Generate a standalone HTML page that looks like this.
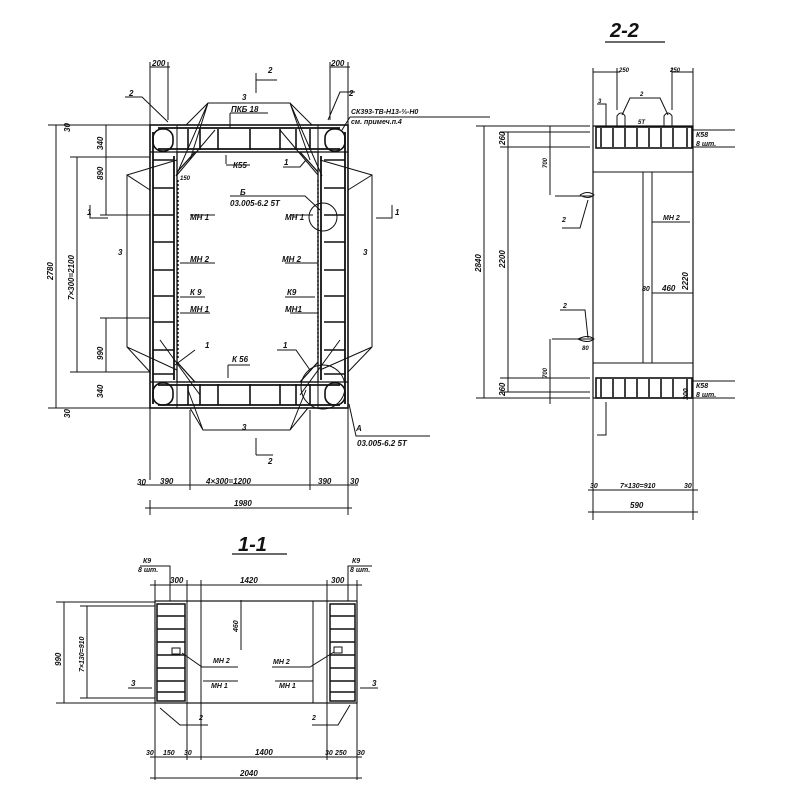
<!DOCTYPE html>
<html><head><meta charset="utf-8"><style>
html,body{margin:0;padding:0;background:#fff}
svg{display:block}
text{font-family:"Liberation Sans",sans-serif;font-style:italic;font-weight:bold;fill:#111}
</style></head><body>
<svg width="800" height="800" viewBox="0 0 800 800" xmlns="http://www.w3.org/2000/svg">
<g stroke="#111" fill="none" stroke-width="1">
<!-- ===== PLAN ===== -->
<rect x="150" y="125" width="198" height="283" stroke-width="1.6"/>
<path d="M177 152 H318 V382 H177 Z" stroke-width="1.3"/>
<path d="M195 152 L177 172 M300 152 L318 172 M177 362 L195 382 M318 362 L300 382" stroke-width="1.3"/>
<line x1="150" y1="152" x2="348" y2="152" stroke-width="1.2"/>
<line x1="150" y1="382" x2="348" y2="382" stroke-width="1.2"/>
<line x1="177" y1="125" x2="177" y2="408"/>
<line x1="318" y1="125" x2="318" y2="408"/>
<line x1="153" y1="132" x2="153" y2="404" stroke-width="1.8"/>
<line x1="174" y1="156" x2="174" y2="380" stroke-width="1.8"/>
<line x1="321" y1="156" x2="321" y2="380" stroke-width="1.8"/>
<line x1="345" y1="132" x2="345" y2="404" stroke-width="1.8"/>
<line x1="158" y1="128" x2="340" y2="128" stroke-width="1.8"/>
<line x1="158" y1="149" x2="340" y2="149" stroke-width="1.8"/>
<line x1="158" y1="385" x2="340" y2="385" stroke-width="1.8"/>
<line x1="158" y1="405" x2="340" y2="405" stroke-width="1.8"/>
<rect x="153" y="129" width="20" height="22" rx="9" stroke-width="1.6"/>
<rect x="325" y="129" width="20" height="22" rx="9" stroke-width="1.6"/>
<rect x="153" y="383" width="20" height="22" rx="9" stroke-width="1.6"/>
<rect x="325" y="383" width="20" height="22" rx="9" stroke-width="1.6"/>
<!-- stirrups top/bottom -->
<g stroke-width="1.6">
<path d="M188 129V150 M200 129V150 M218 129V150 M250 129V150 M280 129V150 M296 129V150 M310 129V150"/>
<path d="M188 384V405 M200 384V405 M218 384V405 M250 384V405 M280 384V405 M296 384V405 M310 384V405"/>
<path d="M153 160H174 M153 188H174 M153 215H174 M153 242H174 M153 270H174 M153 296H174 M153 322H174 M153 350H174 M153 374H174"/>
<path d="M324 160H345 M324 188H345 M324 215H345 M324 242H345 M324 270H345 M324 296H345 M324 322H345 M324 350H345 M324 374H345"/>
</g>
<line x1="178" y1="180" x2="178" y2="360" stroke-dasharray="2 2" stroke-width="1.4"/>
<line x1="318" y1="180" x2="318" y2="360" stroke-dasharray="2 2" stroke-width="1.4"/>
<!-- haunch lines 3 -->
<path d="M186 125 L208 103 H290 L312 125"/>
<path d="M208 103 L190 160 M208 103 L176 176 M290 103 L310 160 M290 103 L322 176"/>
<path d="M150 190 L127 175 V347 L150 372 M127 175 L177 160 M127 347 L177 370"/>
<path d="M348 190 L372 175 V347 L348 372 M372 175 L320 160 M372 347 L320 370"/>
<path d="M190 408 L203 430 H290 L308 408 M203 430 L188 390 M290 430 L306 390"/>
<path d="M177 175 L215 130 M318 175 L280 130 M160 340 L200 395 M340 340 L300 395"/>
<circle cx="323" cy="217" r="14"/>
<circle cx="323" cy="387" r="22"/>
<!-- leaders -->
<path d="M125 97 H142 L168 122 M355 92 H340 L328 120 M350 117 L490 117 M350 117 L342 130"/>
<path d="M230 113 H268 M230 113 L230 128"/>
<path d="M226 164 L226 155 M226 165 H250 M283 167 H300 L306 160"/>
<path d="M230 196 H305 L320 210 M190 215 H215 M290 215 H313 M180 263 H215 M285 263 H318 M180 297 H205 M285 297 H315 M180 313 H210 M290 313 H318"/>
<path d="M195 350 L175 365 M277 350 H296 L310 370 M228 365 H250 M228 365 V378"/>
<path d="M349 404 L356 436 H430"/>
<!-- section markers -->
<path d="M256 73 V93 M256 80 H277"/><path d="M256 438 V455 M256 455 H273"/>
<path d="M90 205 V218 H108 M392 205 V218 H376"/>
<!-- dims plan -->
<path d="M56 125 V408 M48 125 H160 M48 408 H160 M77 157 V372 M70 157 H150 M70 372 H150 M106 125 V215 M100 215 H150 M106 318 V372 M100 318 H150"/>
<path d="M150 62 V480 M168 62 V120 M150 67 H170 M330 62 V120 M348 62 V500 M330 67 H350"/>
<path d="M190 410 V490 M310 410 V490 M140 485 H358 M150 500 V515 M348 500 V515 M145 508 H352"/>
<!-- ===== SECTION 2-2 ===== -->
<line x1="605" y1="42" x2="665" y2="42" stroke-width="1.3"/>
<rect x="593" y="126" width="100" height="272" stroke-width="1.2"/>
<rect x="596" y="127" width="96" height="21" stroke-width="1.6"/>
<rect x="596" y="378" width="96" height="20" stroke-width="1.6"/>
<line x1="593" y1="172" x2="693" y2="172"/>
<line x1="593" y1="363" x2="693" y2="363"/>
<line x1="643" y1="172" x2="643" y2="363"/><line x1="652" y1="172" x2="652" y2="363"/>
<g stroke-width="1.6"><path d="M601 128V147 M613 128V147 M625 128V147 M637 128V147 M649 128V147 M661 128V147 M673 128V147 M687 128V147"/>
<path d="M601 379V397 M613 379V397 M625 379V397 M637 379V397 M649 379V397 M661 379V397 M673 379V397 M687 379V397"/></g>
<path d="M617 126 V116 Q621 110 625 116 V126 M664 126 V116 Q668 110 672 116 V126"/>
<path d="M622 115 L630 98 H660 L668 115"/>
<path d="M597 104 H606 V126 M597 435 H606 V402"/>
<path d="M580 195 Q588 190 594 195 Q588 200 580 195 M593 196 H555"/>
<path d="M562 228 H580 L588 200"/>
<path d="M560 310 H585 L588 338 M578 339 Q588 334 594 339 Q588 344 578 339 M593 339 H552"/>
<path d="M652 222 H690 M652 293 H693"/>
<path d="M484 126 V398 M476 126 H590 M476 398 H590 M508 132 V392 M500 132 H590 M500 147 H590 M500 378 H590 M500 392 H590 M550 126 V195 M550 339 V404"/>
<path d="M693 130 H735 M693 147 H735 M693 381 H735 M693 398 H735"/>
<path d="M593 68 V520 M693 68 V520 M593 72 H620 M672 72 H693 M617 68 V110 M672 68 V110"/>
<path d="M588 490 H698 M588 512 H698"/>
<!-- ===== SECTION 1-1 ===== -->
<line x1="232" y1="554" x2="287" y2="554" stroke-width="1.3"/>
<rect x="155" y="601" width="202" height="102" stroke-width="1.2"/>
<rect x="157" y="604" width="28" height="97" stroke-width="1.5"/>
<rect x="330" y="604" width="25" height="97" stroke-width="1.5"/>
<line x1="187" y1="601" x2="187" y2="703"/><line x1="201" y1="601" x2="201" y2="703"/>
<line x1="313" y1="601" x2="313" y2="703"/><line x1="327" y1="601" x2="327" y2="703"/>
<g stroke-width="1.4"><path d="M157 616H185 M157 629H185 M157 642H185 M157 655H185 M157 668H185 M157 681H185 M157 692H185"/>
<path d="M330 616H355 M330 629H355 M330 642H355 M330 655H355 M330 668H355 M330 681H355 M330 692H355"/></g>
<rect x="172" y="648" width="8" height="6"/><rect x="334" y="647" width="8" height="6"/>
<path d="M182 653 L202 667 H238 M203 681 H238 M334 652 L310 667 H272 M275 681 H313"/>
<path d="M128 688 H152 M360 688 H378 M160 708 L180 725 H208 M350 705 L338 725 H312"/>
<path d="M64 602 V703 M56 602 H155 M56 703 H155 M87 606 V698 M80 606 H155 M80 698 H155"/>
<path d="M140 566 H170 V601 M372 566 H348 V601"/>
<path d="M155 580 V780 M187 580 V760 M201 580 V760 M327 580 V760 M357 580 V780 M150 585 H362 M241 601 V610 M241 650 V600"/>
<path d="M150 757 H362 M150 778 H362"/>
</g>
<!-- texts -->
<g font-size="8">
<text x="152" y="66">200</text><text x="331" y="66">200</text>
<text x="129" y="96">2</text><text x="349" y="96">2</text>
<text x="268" y="73">2</text><text x="268" y="464">2</text>
<text x="242" y="100">3</text><text x="242" y="430">3</text>
<text x="231" y="112">ПКБ 18</text>
<text x="351" y="114" font-size="7">СК393-ТВ-Н13-⅔-Н0</text><text x="351" y="124" font-size="7">см. примеч.п.4</text>
<text x="233" y="168">К55</text><text x="284" y="165">1</text><text x="180" y="180" font-size="6">150</text>
<text x="240" y="195">Б</text><text x="230" y="206">03.005-6.2  5Т</text>
<text x="190" y="220">МН 1</text><text x="285" y="220">МН 1</text>
<text x="190" y="262">МН 2</text><text x="282" y="262">МН 2</text>
<text x="190" y="295">К 9</text><text x="287" y="295">К9</text>
<text x="190" y="312">МН 1</text><text x="285" y="312">МН1</text>
<text x="205" y="348">1</text><text x="283" y="348">1</text><text x="232" y="362">К 56</text>
<text x="356" y="431">А</text><text x="357" y="446">03.005-6.2  5Т</text>
<text x="87" y="215">1</text><text x="395" y="215">1</text>
<text x="118" y="255">3</text><text x="363" y="255">3</text>
<text x="137" y="485">30</text><text x="160" y="484">390</text><text x="206" y="484">4×300=1200</text><text x="318" y="484">390</text><text x="350" y="484">30</text>
<text x="234" y="506">1980</text>
<text x="619" y="72" font-size="6">250</text><text x="670" y="72" font-size="6">250</text>
<text x="640" y="96" font-size="6">2</text><text x="598" y="103" font-size="6">3</text><text x="638" y="124" font-size="6">5Т</text>
<text x="696" y="137" font-size="7">К58</text><text x="696" y="146" font-size="7">8 шт.</text>
<text x="696" y="388" font-size="7">К58</text><text x="696" y="397" font-size="7">8 шт.</text>
<text x="562" y="222" font-size="7">2</text><text x="563" y="308" font-size="7">2</text>
<text x="663" y="220" font-size="7">МН 2</text><text x="662" y="291">460</text><text x="642" y="291" font-size="7">80</text>
<text x="582" y="350" font-size="6">80</text>
<text x="590" y="488" font-size="7">30</text><text x="620" y="488" font-size="7">7×130=910</text><text x="684" y="488" font-size="7">30</text>
<text x="630" y="508">590</text>
<text x="143" y="563" font-size="7">К9</text><text x="138" y="572" font-size="7">8 шт.</text>
<text x="352" y="563" font-size="7">К9</text><text x="350" y="572" font-size="7">8 шт.</text>
<text x="170" y="583">300</text><text x="240" y="583">1420</text><text x="331" y="583">300</text>
<text x="213" y="663" font-size="7">МН 2</text><text x="211" y="688" font-size="7">МН 1</text>
<text x="273" y="664" font-size="7">МН 2</text><text x="279" y="688" font-size="7">МН 1</text>
<text x="131" y="686">3</text><text x="372" y="686">3</text>
<text x="199" y="720" font-size="7">2</text><text x="312" y="720" font-size="7">2</text>
<text x="146" y="755" font-size="7">30</text><text x="163" y="755" font-size="7">150</text><text x="184" y="755" font-size="7">30</text>
<text x="255" y="755">1400</text><text x="325" y="755" font-size="7">30</text><text x="335" y="755" font-size="7">250</text><text x="357" y="755" font-size="7">30</text>
<text x="240" y="776">2040</text>
</g>
<g font-size="8">
<text transform="translate(53,280) rotate(-90)">2780</text>
<text transform="translate(74,300) rotate(-90)">7×300=2100</text>
<text transform="translate(103,180) rotate(-90)">890</text>
<text transform="translate(103,360) rotate(-90)">990</text>
<text transform="translate(103,150) rotate(-90)">340</text>
<text transform="translate(103,398) rotate(-90)">340</text>
<text transform="translate(70,132) rotate(-90)">30</text>
<text transform="translate(70,418) rotate(-90)">30</text>
<text transform="translate(481,272) rotate(-90)">2840</text>
<text transform="translate(505,268) rotate(-90)">2200</text>
<text transform="translate(505,145) rotate(-90)">260</text>
<text transform="translate(505,396) rotate(-90)">260</text>
<text transform="translate(547,168) rotate(-90)" font-size="6">700</text>
<text transform="translate(547,378) rotate(-90)" font-size="6">700</text>
<text transform="translate(688,290) rotate(-90)">2220</text>
<text transform="translate(688,400) rotate(-90)" font-size="7">300</text>
<text transform="translate(61,666) rotate(-90)">990</text>
<text transform="translate(84,672) rotate(-90)" font-size="7">7×130=910</text>
<text transform="translate(238,632) rotate(-90)" font-size="7">460</text>
</g>
<text x="610" y="37" font-size="20" font-style="normal" font-weight="normal">2-2</text>
<text x="238" y="551" font-size="20" font-style="normal" font-weight="normal">1-1</text>
</svg>
</body></html>
